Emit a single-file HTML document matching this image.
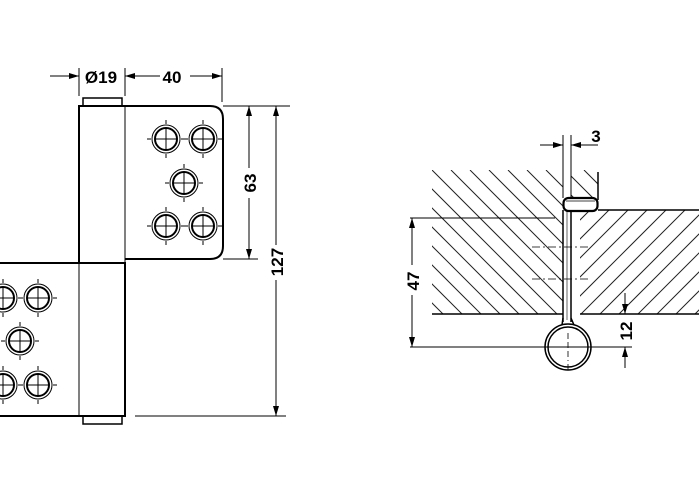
<!DOCTYPE html>
<html><head><style>html,body{margin:0;padding:0;background:#fff}svg{display:block}</style></head>
<body>
<svg width="699" height="486" viewBox="0 0 699 486" xmlns="http://www.w3.org/2000/svg" font-family="Liberation Sans, sans-serif" font-weight="bold">
<defs>
<marker id="a" viewBox="0 0 10 6" refX="10" refY="3" markerWidth="10" markerHeight="6" orient="auto" markerUnits="userSpaceOnUse"><path d="M0,0 L10,3 L0,6z" fill="#000"/></marker>
<clipPath id="cl"><path d="M432,170 H563 V314 H432Z M571,170 H598 V198 H571Z"/></clipPath>
<clipPath id="cr"><rect x="580" y="210" width="119" height="104"/></clipPath>
<g id="hole"><circle r="14" fill="#fff" stroke="#000" stroke-width="1"/><circle r="11" fill="none" stroke="#000" stroke-width="2"/><path d="M-11,0H11M0,-11V11" stroke="#000" stroke-width="1"/><path d="M-19,0h4M15,0h4M0,-19v4M0,15v4" stroke="#000" stroke-width="1"/></g>
</defs>
<g fill="none" stroke="#000">
<rect x="83" y="98" width="39" height="8" stroke-width="1.5"/>
<path d="M79,263 V106 H210 Q223,106 223,119 V246 Q223,259 210,259 H125" stroke-width="2"/>
<line x1="125" y1="106" x2="125" y2="263" stroke-width="1"/>
<path d="M0,263 H125 V416 H0" stroke-width="2"/>
<line x1="79" y1="263" x2="79" y2="416" stroke-width="1"/>
<rect x="83" y="416" width="39" height="8" stroke-width="1.5"/>
</g>
<use href="#hole" x="166" y="139"/><use href="#hole" x="203" y="139"/><use href="#hole" x="184" y="183"/><use href="#hole" x="166" y="226"/><use href="#hole" x="203" y="226"/>
<use href="#hole" x="3" y="298"/><use href="#hole" x="38" y="298"/><use href="#hole" x="20" y="341"/><use href="#hole" x="3" y="385"/><use href="#hole" x="38" y="385"/>
<g stroke="#000" stroke-width="1" fill="none">
<line x1="79" y1="68" x2="79" y2="96"/><line x1="125" y1="68" x2="125" y2="96"/><line x1="222" y1="68" x2="222" y2="102"/>
<line x1="50" y1="76" x2="79" y2="76" marker-end="url(#a)"/>
<line x1="160" y1="76" x2="125" y2="76" marker-end="url(#a)"/>
<line x1="190" y1="76" x2="222" y2="76" marker-end="url(#a)"/>
<line x1="223" y1="106" x2="290" y2="106"/><line x1="223" y1="259" x2="258" y2="259"/><line x1="135" y1="416" x2="286" y2="416"/>
<line x1="249" y1="168" x2="249" y2="106" marker-end="url(#a)"/><line x1="249" y1="198" x2="249" y2="259" marker-end="url(#a)"/>
<line x1="276" y1="245" x2="276" y2="106" marker-end="url(#a)"/><line x1="276" y1="280" x2="276" y2="416" marker-end="url(#a)"/>
</g>
<text x="101" y="83" font-size="17" text-anchor="middle">Ø19</text>
<text x="172" y="83" font-size="17" text-anchor="middle">40</text>
<text transform="translate(256,183) rotate(-90)" font-size="17" text-anchor="middle">63</text>
<text transform="translate(283,262) rotate(-90)" font-size="17" text-anchor="middle">127</text>
<g clip-path="url(#cl)" stroke="#222" stroke-width="1">
<path d="M280,170 l160,160 M299,170 l160,160 M318,170 l160,160 M337,170 l160,160 M356,170 l160,160 M375,170 l160,160 M394,170 l160,160 M413,170 l160,160 M432,170 l160,160 M451,170 l160,160 M470,170 l160,160 M489,170 l160,160 M508,170 l160,160 M527,170 l160,160 M546,170 l160,160 M565,170 l160,160 M584,170 l160,160"/>
</g>
<g clip-path="url(#cr)" stroke="#222" stroke-width="1">
<path d="M590,210 l-120,120 M609,210 l-120,120 M628,210 l-120,120 M647,210 l-120,120 M666,210 l-120,120 M685,210 l-120,120 M704,210 l-120,120 M723,210 l-120,120 M742,210 l-120,120 M761,210 l-120,120 M780,210 l-120,120 M799,210 l-120,120 M818,210 l-120,120"/>
</g>
<g stroke="#000" fill="none">
<line x1="598" y1="172" x2="598" y2="200" stroke-width="1.5"/>
<line x1="598" y1="210" x2="699" y2="210" stroke-width="1.5"/>
<line x1="432" y1="314" x2="563" y2="314" stroke-width="1.5"/>
<line x1="580" y1="314" x2="699" y2="314" stroke-width="1.5"/>
<line x1="563" y1="210" x2="563" y2="322" stroke-width="1.5"/>
<line x1="571" y1="211" x2="571" y2="322" stroke-width="1.5"/>
<line x1="567" y1="211" x2="567" y2="320" stroke-width="0.6"/>
<rect x="563.5" y="198" width="34" height="13" rx="5" fill="#fff" stroke-width="2.2"/>
<line x1="566" y1="201" x2="595" y2="201" stroke-width="0.8"/>
<circle cx="568" cy="347" r="23" fill="#fff" stroke-width="1.5"/>
<circle cx="568" cy="347" r="20" stroke-width="1.5"/>
<path d="M562,325 L563,318 M574,325 L571,318" stroke-width="1.5"/>
<path d="M554,347h28M568,333v28M568,364v8" stroke-width="0.8" stroke-dasharray="6,3"/>
<path d="M532,247h58M532,279h58" stroke-width="0.8" stroke-dasharray="8,3,2,3"/>
<line x1="410" y1="218" x2="555" y2="218" stroke-width="1"/>
<line x1="410" y1="347" x2="632" y2="347" stroke-width="1"/>
<line x1="412" y1="265" x2="412" y2="218" marker-end="url(#a)"/>
<line x1="412" y1="295" x2="412" y2="347" marker-end="url(#a)"/>
<line x1="625" y1="293" x2="625" y2="314" marker-end="url(#a)"/>
<line x1="625" y1="368" x2="625" y2="347" marker-end="url(#a)"/>
<line x1="563" y1="135" x2="563" y2="198" stroke-width="1"/>
<line x1="571" y1="135" x2="571" y2="198" stroke-width="1"/>
<line x1="540" y1="145" x2="563" y2="145" marker-end="url(#a)"/>
<line x1="598" y1="145" x2="571" y2="145" marker-end="url(#a)"/>
</g>
<text x="596" y="142" font-size="17" text-anchor="middle">3</text>
<text transform="translate(419,281) rotate(-90)" font-size="17" text-anchor="middle">47</text>
<text transform="translate(632,331) rotate(-90)" font-size="17" text-anchor="middle">12</text>
</svg>
</body></html>
